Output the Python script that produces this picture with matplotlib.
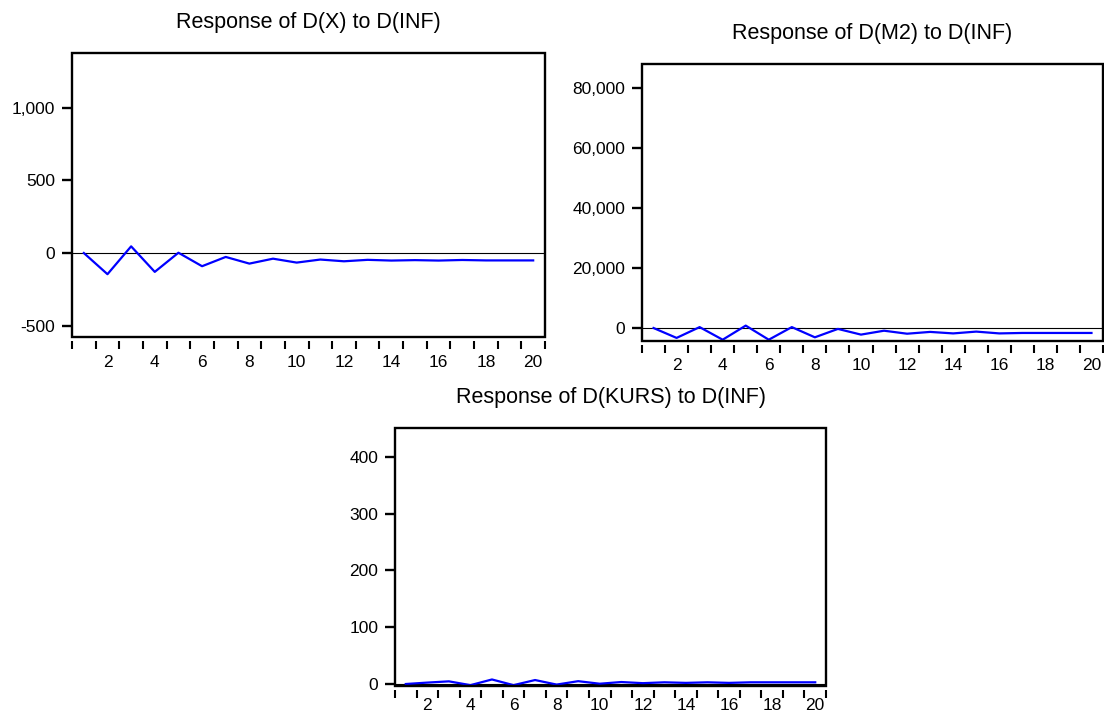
"""Impulse responses of D(X), D(M2), D(KURS) to a D(INF) shock, EViews style."""
import numpy as np
import matplotlib

matplotlib.use("Agg")
import matplotlib.pyplot as plt  # noqa: E402
from matplotlib.patches import Rectangle  # noqa: E402
from matplotlib.ticker import FuncFormatter  # noqa: E402

plt.rcParams["font.family"] = ["Liberation Sans", "DejaVu Sans"]

PERIODS = list(range(1, 21))

RESP_X = [0, -146, 46, -130, 2, -91, -27, -73, -39, -66,
          -45, -57, -47, -52, -49, -52, -48, -51, -51, -51]
RESP_M2 = [0, -3300, 300, -3900, 800, -3900, 300, -3100, -300, -2200,
           -900, -1900, -1300, -1800, -1200, -1800, -1650, -1650, -1650, -1650]
RESP_KURS = [0, 2.5, 4.7, -2, 8, -2, 7, -1, 5, 0.5,
             3.5, 1.5, 3, 2, 3, 2, 3, 3, 3, 3]

TITLES = ["Response of D(X) to D(INF)",
          "Response of D(M2) to D(INF)",
          "Response of D(KURS) to D(INF)"]
YTICKS = [[-500, 0, 500, 1000],
          [0, 20000, 40000, 60000, 80000],
          [0, 100, 200, 300, 400]]
YLIMS = [(-579, 1379), (-4330, 88000), (-3.5, 451)]

W, H = 1104, 716
# axes boxes in pixels: left, right, top, bottom; last = x-label pad (pt)
BOXES = [(72, 545, 53, 337, 10), (642, 1103, 64, 341, 9), (395, 826, 428, 686, 5.5)]


def style(ax, title, yticks, ylim, xpad):
    ax.set_xlim(0.5, 20.5)
    ax.set_ylim(*ylim)
    for s in ax.spines.values():
        s.set_color("none")
    ax.spines["bottom"].set_position(("outward", 3))
    ax.add_patch(Rectangle((0, 0), 1, 1, transform=ax.transAxes, fill=False,
                           lw=1.7, ec="black", clip_on=False, zorder=5))
    ax.set_xticks(np.arange(0.5, 21, 1))
    ax.set_xticklabels([])
    ax.set_xticks(range(2, 21, 2), minor=True)
    ax.set_xticklabels([str(v) for v in range(2, 21, 2)], minor=True)
    ax.tick_params(axis="x", which="major", direction="out", length=6, width=1.5)
    ax.tick_params(axis="x", which="minor", length=0, pad=xpad, labelsize=12.5)
    ax.set_yticks(yticks)
    ax.yaxis.set_major_formatter(FuncFormatter(lambda v, _: f"{v:,.0f}"))
    ax.tick_params(axis="y", direction="out", length=7, width=1.7, pad=5,
                   labelsize=12.5)
    ax.axhline(0, color="black", lw=0.8, zorder=1)
    ax.set_title(title, fontsize=15.5, pad=18)


fig = plt.figure(figsize=(W / 100, H / 100), dpi=100)
for (l, r, t, b, xpad), title, yt, yl, resp in zip(
        BOXES, TITLES, YTICKS, YLIMS, [RESP_X, RESP_M2, RESP_KURS]):
    ax = fig.add_axes([l / W, 1 - b / H, (r - l) / W, (b - t) / H])
    ax.plot(PERIODS, resp, color="#0000ff", lw=1.6, zorder=3)
    style(ax, title, yt, yl, xpad)

fig.savefig("out.png", dpi=100)
